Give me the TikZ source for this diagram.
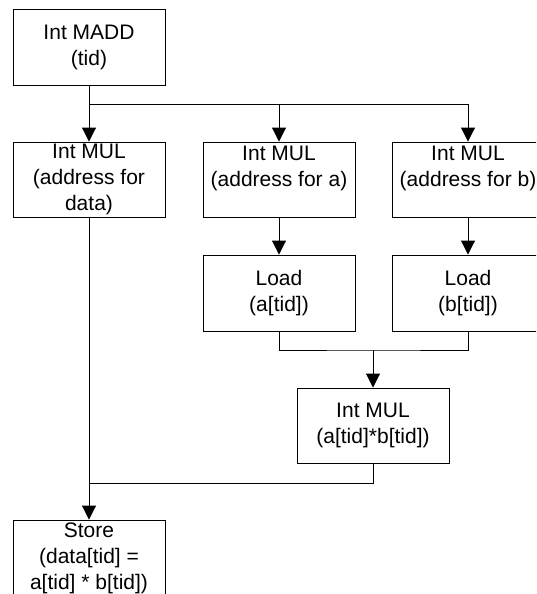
\documentclass[tikz,border=0pt]{standalone}
\usepackage{fontspec}
\setmainfont{Liberation Sans}
\usetikzlibrary{arrows.meta}

\tikzset{
  opbox/.style={draw, line width=0.9pt, minimum width=152pt, minimum height=76pt,
    inner sep=0pt, align=center, font=\fontsize{21}{26}\selectfont},
  flow/.style={line width=0.9pt, -{Triangle[width=14pt,length=14pt]}}
}

\begin{document}
\begin{tikzpicture}[x=1pt, y=-1pt, line width=0.9pt]
  \useasboundingbox (0,0) rectangle (536,594);
  \clip (0,0) rectangle (536,594);
  % address computation
  \node[opbox] (madd) at (89,47) {Int MADD\\(tid)};
  \node[opbox, minimum height=75pt] (muld) at (89,179.5) {Int MUL\\(address for\\data)};
  \node[opbox, minimum height=75pt] (mula) at (279,179.5) {Int MUL\\(address for a)\\~};
  \node[opbox, minimum height=75pt] (mulb) at (468,179.5) {Int MUL\\(address for b)\\~};
  % loads and product
  \node[opbox] (loada) at (279,293) {Load\\(a[tid])};
  \node[opbox] (loadb) at (468,293) {Load\\(b[tid])};
  \node[opbox, minimum height=75pt] (mulab) at (373,425.5) {Int MUL\\(a[tid]*b[tid])};
  \node[opbox] (store) at (89,558) {Store\\(data[tid] =\\a[tid] * b[tid])};
  % connectors
  \coordinate (split) at (89,104);
  \coordinate (join) at (373,350);
  \coordinate (merge) at (89,483);
  \draw (madd) -- (split);
  \draw[flow] (split) -- (muld);
  \draw[flow] (split) -| (mula);
  \draw[flow] (split) -| (mulb);
  \draw[flow] (mula) -- (loada);
  \draw[flow] (mulb) -- (loadb);
  \draw (loada) |- (join) -| (loadb);
  \draw[flow] (join) -- (mulab);
  \draw (mulab) |- (merge);
  \draw[flow] (muld) -- (store);
\end{tikzpicture}
\end{document}
